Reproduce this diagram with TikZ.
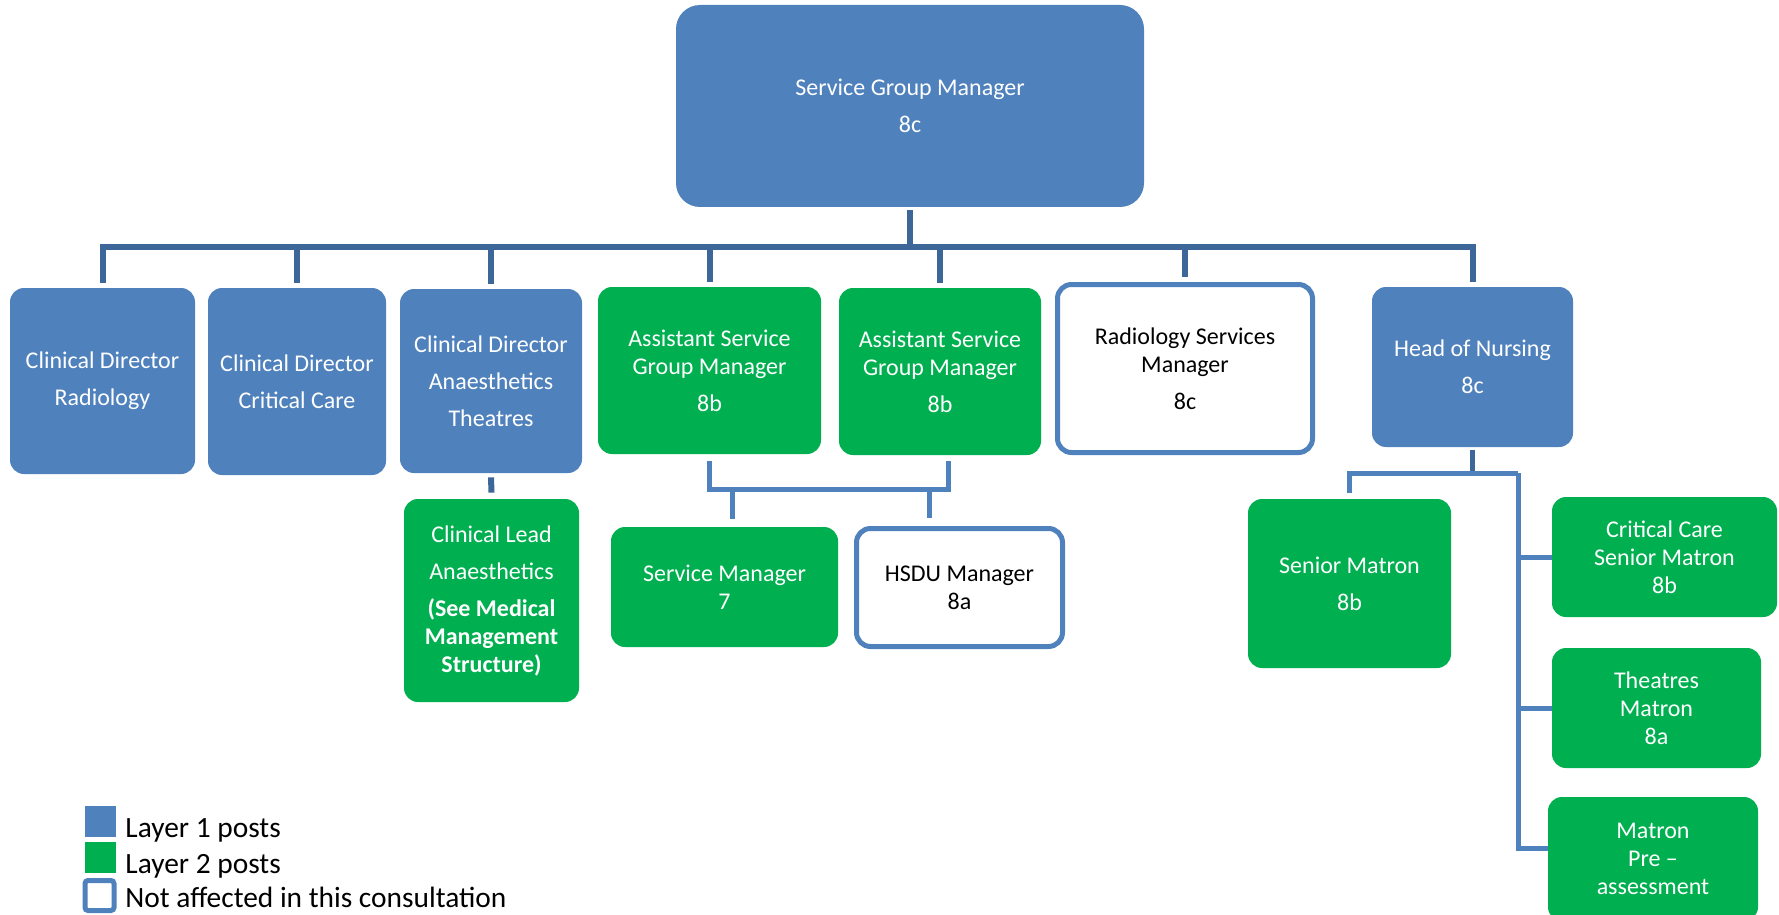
\documentclass[tikz,border=0pt]{standalone}
\usepackage{fontspec}
\setmainfont{Carlito}
\definecolor{blueA}{HTML}{4F81BD}
\definecolor{greenA}{HTML}{00B050}
\definecolor{busblue}{HTML}{3D6699}
\definecolor{linkblue}{HTML}{4F81BD}
\tikzset{
  box/.style={rounded corners=7pt, inner sep=2pt, align=center, font=\fontsize{12}{14}\selectfont},
  lone/.style={box, fill=blueA, text=white},
  ltwo/.style={box, fill=greenA, text=white},
  nota/.style={box, draw=blueA, line width=2.5pt, fill=white, text=black},
  bus/.style={draw=busblue, line width=3pt},
  link/.style={draw=linkblue, line width=2.5pt},
  legtxt/.style={anchor=base west, inner sep=0pt, font=\fontsize{14.7}{16}\selectfont},
}
\newcommand\orgbox[7]{\node[#6, minimum width={(#4-#2)*0.5pt}, minimum height={(#5-#3)*0.5pt}] (#1) at ({(#2+#4)/2},{(#3+#5)/2}) {#7};}
\begin{document}
\begin{tikzpicture}[x=0.5pt,y=-0.5pt]
\useasboundingbox (0,0) rectangle (1779,915);
% boxes
\orgbox{sgm}{676}{5}{1144}{207}{lone,rounded corners=12pt}{Service Group Manager\\[4.5pt]8c}
\orgbox{cdr}{10}{288}{195}{474}{lone}{Clinical Director\\[4.5pt]Radiology}
\orgbox{cdc}{208}{288}{386}{475}{lone}{Clinical Director\\[4.5pt]Critical Care}
\orgbox{cda}{400}{289}{582}{473}{lone}{Clinical Director\\[4.5pt]Anaesthetics\\[4.5pt]Theatres}
\orgbox{asga}{598}{287}{821}{454}{ltwo}{Assistant Service\\Group Manager\\[4.5pt]8b}
\orgbox{asgb}{839}{288}{1041}{455}{ltwo}{Assistant Service\\Group Manager\\[4.5pt]8b}
\orgbox{rsm}{1057.5}{284.5}{1312.5}{452.5}{nota}{Radiology Services\\Manager\\[4.5pt]8c}
\orgbox{hon}{1372}{287}{1573}{447}{lone}{Head of Nursing\\[4.5pt]8c}
\orgbox{cl}{404}{499}{579}{702}{ltwo}{Clinical Lead\\[4.5pt]Anaesthetics\\[4.5pt]\textbf{(See Medical}\\\textbf{Management}\\\textbf{Structure)}}
\orgbox{sm}{611}{527}{838}{647}{ltwo}{Service Manager\\7}
\orgbox{hsdu}{856.5}{528.5}{1062.5}{646.5}{nota}{HSDU Manager\\8a}
\orgbox{smat}{1248}{499}{1451}{668}{ltwo}{Senior Matron\\[4.5pt]8b}
\orgbox{ccsm}{1552}{497}{1777}{617}{ltwo}{Critical Care\\Senior Matron\\8b}
\orgbox{tm}{1552}{648}{1761}{768}{ltwo}{Theatres\\Matron\\8a}
\orgbox{mpa}{1548}{797}{1758}{921}{ltwo}{Matron\\Pre –\\assessment}
% top bus
\coordinate (busL) at (102,247);
\draw[bus] ([yshift=-1.5pt]sgm.south) -- (sgm.south |- busL);
\draw[bus] ([yshift=2.5pt]cdr.north) -- (cdr.north |- busL) -| ([yshift=2.5pt]hon.north);
\foreach \n in {cdc,cda,asga,asgb,rsm}
  \draw[bus] ([yshift=2.5pt]\n.north) -- (\n.north |- busL);
\draw[bus] ([yshift=-2pt]cda.south) -- ([yshift=3pt]cl.north);
% ASGM branch
\coordinate (ja) at (948,489);
\coordinate (jb) at (948,461);
\coordinate (jc) at (732,489);
\coordinate (jd) at (929,489);
\draw[link] ([yshift=-3.5pt]asga.south) |- (ja) -- (jb);
\draw[link] (jc) -- ([yshift=4pt]jc |- sm.north);
\draw[link] (jd) -- ([yshift=4pt]jd |- hsdu.north);
% Head of nursing branch
\coordinate (ha) at (1518,473);
\draw[draw=busblue, line width=2.5pt] ([yshift=-1.5pt]hon.south) -- (hon.south |- ha);
\draw[link] ([yshift=3pt]smat.north) |- (ha);
\draw[link] (ha) |- (ccsm.west);
\draw[link] (ha) |- (tm.west);
\draw[link] (ha) |- ([yshift=5.5pt]mpa.west);
% legend
\node[fill=blueA, minimum width=15.5pt, minimum height=15.5pt, inner sep=0pt] (lga) at (100.5,821.5) {};
\node[fill=greenA, minimum width=15.5pt, minimum height=15.5pt, inner sep=0pt] (lgb) at (100.5,857.5) {};
\node[draw=blueA, fill=white, line width=2.5pt, rounded corners=1.5pt, minimum width=14.5pt, minimum height=15pt, inner sep=0pt] (lgc) at (99.5,895.5) {};
\node[legtxt] (lta) at (125,837) {Layer 1 posts};
\node[legtxt] (ltb) at (125,873) {Layer 2 posts};
\node[legtxt] (ltc) at (125,907) {Not affected in this consultation};
\end{tikzpicture}
\end{document}
